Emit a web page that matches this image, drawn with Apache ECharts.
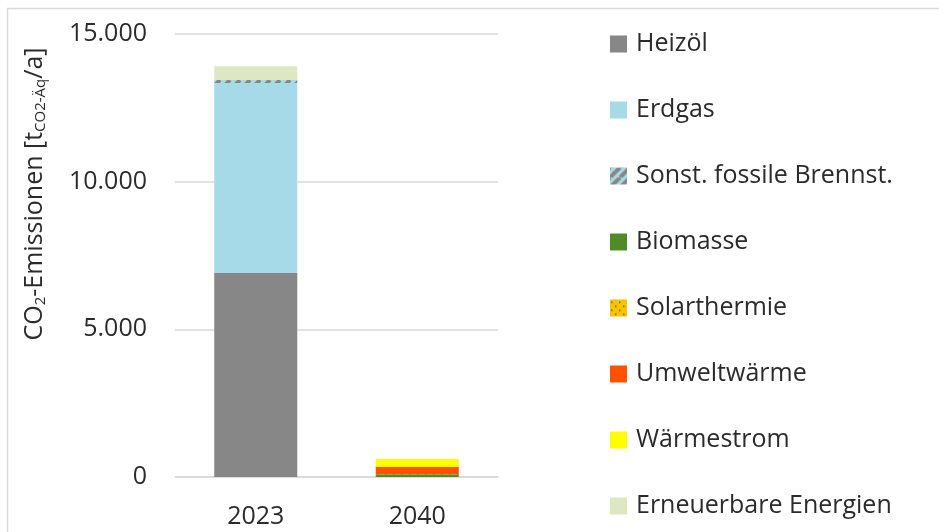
<!DOCTYPE html>
<html>
<head>
<meta charset="utf-8">
<script src="https://cdn.jsdelivr.net/npm/echarts@6/dist/echarts.min.js"></script>
<style>
  html, body { margin: 0; padding: 0; background: #fff; }
  #chart { width: 939px; height: 532px; }
</style>
</head>
<body>
<div id="chart"></div>
<script>
// Years on the x axis
const years = ['2023', '2040'];

// Emissions per energy carrier in t CO2-eq per year
const heizoel      = [6910, 0];
const erdgas       = [6430, 0];
const sonstFossil  = [100, 0];
const biomasse     = [0, 90];
const solarthermie = [0, 15];
const umweltwaerme = [0, 235];
const waermestrom  = [0, 270];
const erneuerbare  = [470, 0];

const seriesNames = ['Heizöl', 'Erdgas', 'Sonst. fossile Brennst.', 'Biomasse',
  'Solarthermie', 'Umweltwärme', 'Wärmestrom', 'Erneuerbare Energien'];
const seriesValues = [heizoel, erdgas, sonstFossil, biomasse,
  solarthermie, umweltwaerme, waermestrom, erneuerbare];

// Axis ticks
const yMin = 0, yMax = 15000, yStep = 5000;

const FONT = '"Open Sans", "Noto Sans", sans-serif';
const TEXT = '#2b2b2b';
const FS = 25;

// Striped fill: grey diagonal bands on light blue
function stripePattern() {
  const c = document.createElement('canvas');
  c.width = 10; c.height = 10;
  const g = c.getContext('2d');
  g.fillStyle = '#a6dae8';
  g.fillRect(0, 0, 10, 10);
  g.strokeStyle = '#878787';
  g.lineWidth = 4;
  g.beginPath();
  for (let k = -10; k <= 20; k += 10) {
    g.moveTo(k, 10); g.lineTo(k + 10, 0);
  }
  g.stroke();
  return { image: c, repeat: 'repeat' };
}

// Dotted fill: small brown dots on amber
function dotPattern() {
  const c = document.createElement('canvas');
  c.width = 8; c.height = 8;
  const g = c.getContext('2d');
  g.fillStyle = '#f5c400';
  g.fillRect(0, 0, 8, 8);
  g.fillStyle = '#a0520f';
  g.fillRect(1, 2, 1.5, 1.5);
  g.fillRect(5, 6, 1.5, 1.5);
  return { image: c, repeat: 'repeat' };
}

const colors = ['#878787', '#a6dae8', stripePattern(), '#4f8b26',
  dotPattern(), '#ff5100', '#ffff00', '#dde8c2'];

function fmt(v) {
  return String(v).replace(/\B(?=(\d{3})+(?!\d))/g, '.');
}

const chart = echarts.init(document.getElementById('chart'), null, { renderer: 'canvas' });

chart.setOption({
  animation: false,
  backgroundColor: '#fff',
  textStyle: { fontFamily: FONT },
  grid: { left: 175, right: 441, top: 34, bottom: 55, containLabel: false },
  xAxis: {
    type: 'category',
    data: years,
    axisLine: { lineStyle: { color: '#d9d9d9', width: 1.5 } },
    axisTick: { show: false },
    axisLabel: { color: TEXT, fontSize: FS, margin: 27, fontFamily: FONT }
  },
  yAxis: {
    type: 'value',
    min: yMin, max: yMax, interval: yStep,
    axisLine: { show: false },
    axisTick: { show: false },
    splitLine: { lineStyle: { color: '#d9d9d9', width: 1.5 } },
    axisLabel: {
      color: TEXT, fontSize: FS, margin: 28, fontFamily: FONT,
      formatter: fmt
    }
  },
  legend: {
    orient: 'vertical',
    left: 605,
    top: 26,
    itemWidth: 17,
    itemHeight: 17,
    itemGap: 40,
    icon: 'rect',
    textStyle: { color: TEXT, fontSize: FS, fontFamily: FONT, lineHeight: 26, padding: [0, 0, 0, 4] },
    data: seriesNames
  },
  graphic: [
    {
      type: 'rect',
      shape: { x: 7.5, y: 8.5, width: 960, height: 560 },
      style: { fill: 'none', stroke: '#d9d9d9', lineWidth: 1.5 },
      silent: true
    },
    {
      type: 'text',
      x: 35, y: 194,
      rotation: Math.PI / 2,
      style: {
        text: '{n|CO}{s|2}{n|-Emissionen [t}{s|CO2-Äq}{n|/a]}',
        align: 'center',
        verticalAlign: 'middle',
        fill: TEXT,
        rich: {
          n: { fontSize: FS, fontFamily: FONT, fill: TEXT, lineHeight: 32 },
          s: { fontSize: 15, fontFamily: FONT, fill: TEXT, lineHeight: 32, padding: [11, 0, 0, 0] }
        }
      },
      silent: true
    }
  ],
  series: seriesNames.map((name, i) => ({
    name: name,
    type: 'bar',
    stack: 'total',
    barWidth: 83,
    data: seriesValues[i],
    itemStyle: { color: colors[i] }
  }))
});
</script>
</body>
</html>
